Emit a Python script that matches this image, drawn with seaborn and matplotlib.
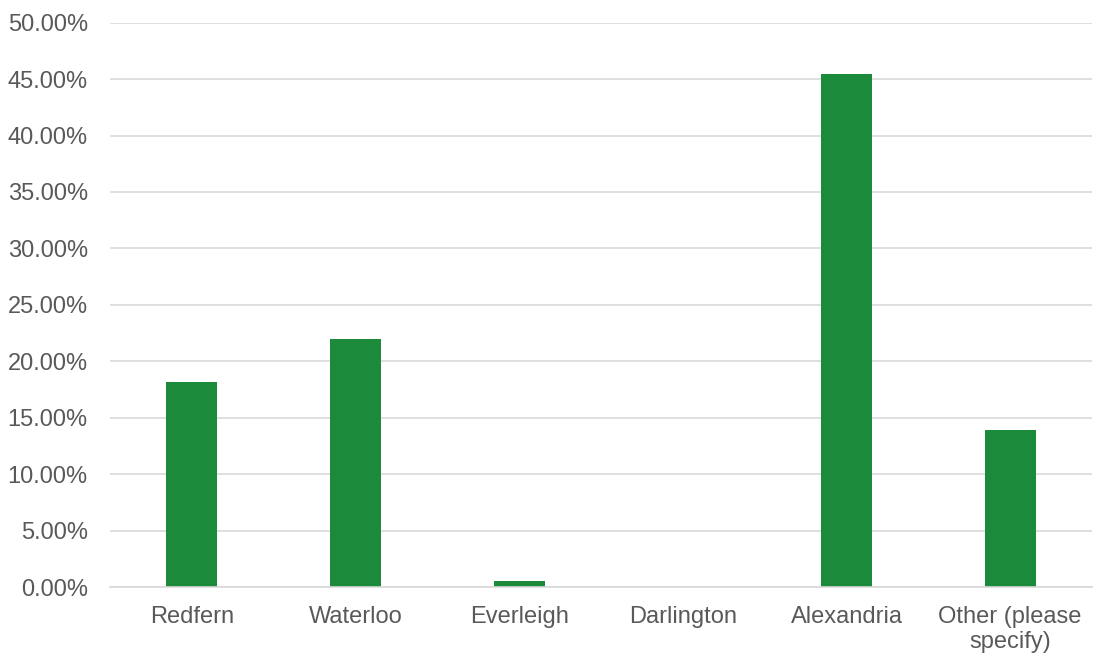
import matplotlib
matplotlib.use("Agg")
import matplotlib.pyplot as plt
import seaborn as sns
import pandas as pd
from matplotlib.ticker import FuncFormatter, MultipleLocator

categories = ["Redfern", "Waterloo", "Everleigh", "Darlington", "Alexandria", "Other (please\nspecify)"]
values = [18.18, 21.93, 0.53, 0.0, 45.45, 13.89]

sns.set_theme(style="white")
plt.rcParams['font.family'] = ['Liberation Sans', 'DejaVu Sans']

df = pd.DataFrame({"cat": categories, "val": values})

fig = plt.figure(figsize=(10.93, 6.57), dpi=100)
ax = fig.add_axes([110/1093, 1 - 587/657, (1092 - 110)/1093, (587 - 22.7)/657])

sns.barplot(data=df, x="cat", y="val", color="#1B8A3A", width=0.31, ax=ax,
            saturation=1, edgecolor="none")

ax.set_ylim(0, 50)
ax.yaxis.set_major_locator(MultipleLocator(5))
ax.yaxis.set_major_formatter(FuncFormatter(lambda v, p: f"{v:.2f}%"))
ax.grid(axis="y", color="#D9D9D9", linewidth=1.2)
ax.set_axisbelow(True)
for s in ["top", "right", "left"]:
    ax.spines[s].set_visible(False)
ax.spines["bottom"].set_color("#D9D9D9")
ax.spines["bottom"].set_linewidth(1.2)
ax.set_xlabel("")
ax.set_ylabel("")
ax.tick_params(axis="y", length=0, pad=16, labelsize=17, labelcolor="#595959")
ax.tick_params(axis="x", length=0, pad=14, labelsize=17, labelcolor="#595959")
for t in ax.get_xticklabels():
    t.set_linespacing(1.15)
    t.set_horizontalalignment("center")
    t.set_multialignment("center")

fig.savefig("out.png", dpi=100)
